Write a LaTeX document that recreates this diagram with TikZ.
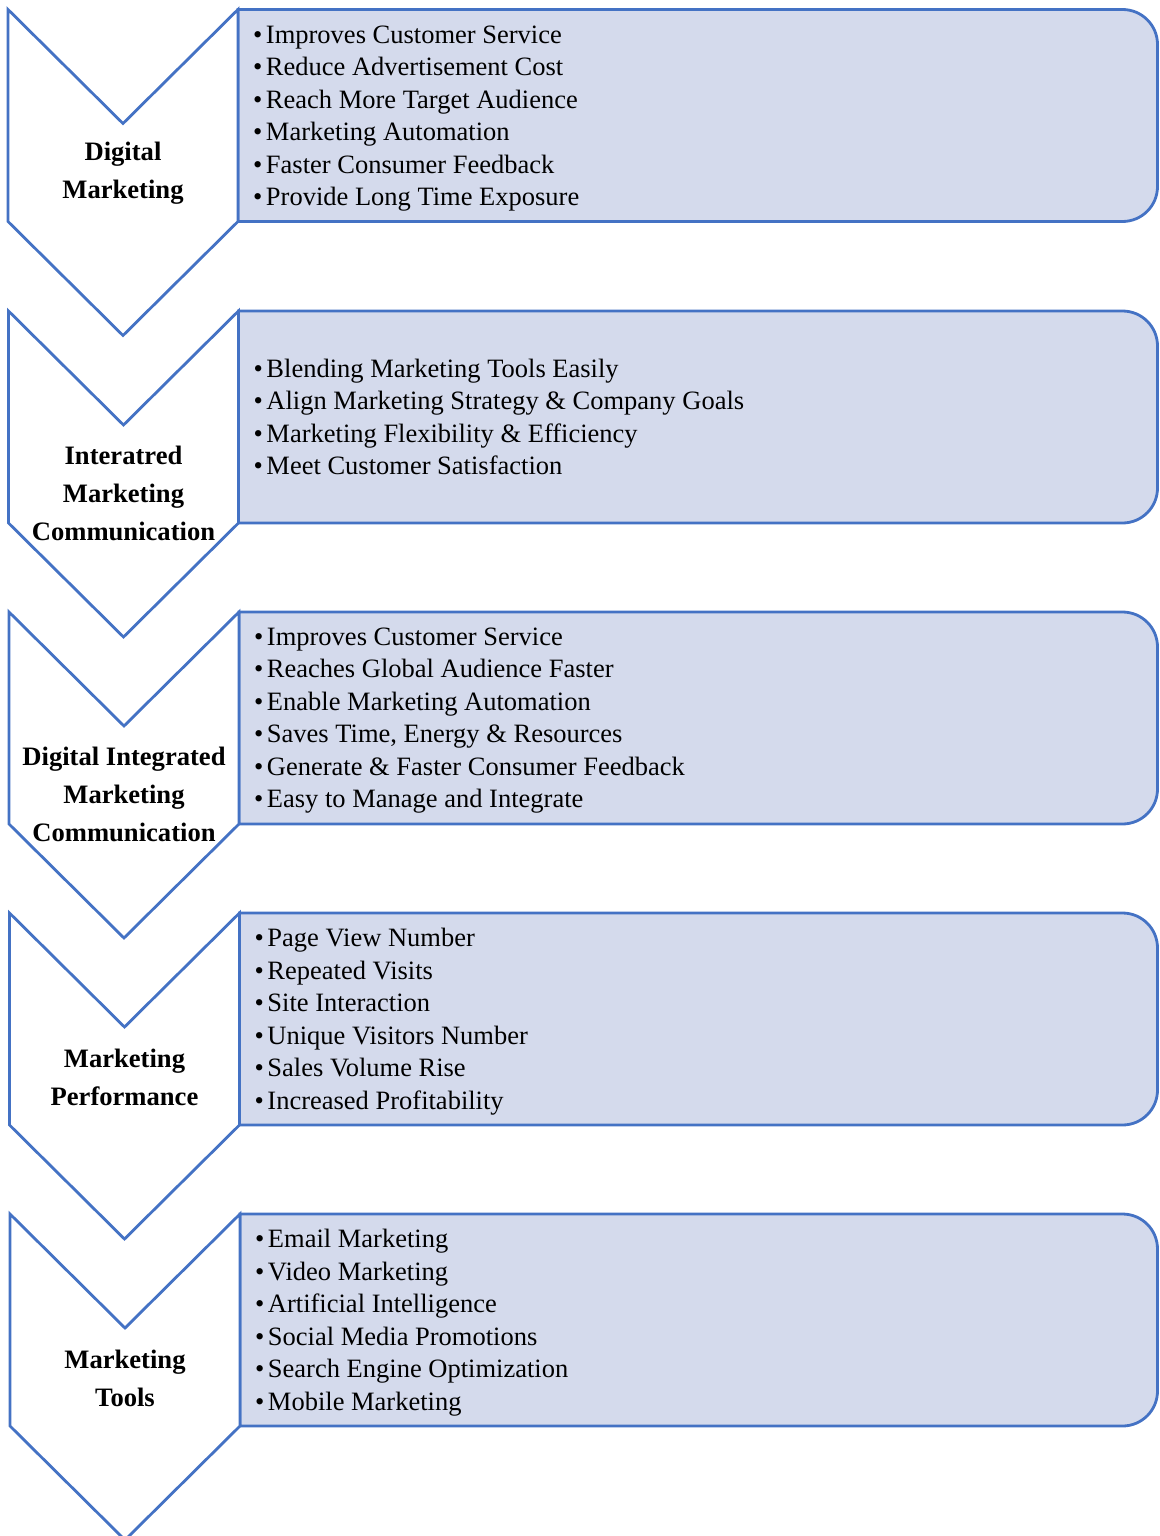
\documentclass[tikz,border=0pt]{standalone}
\usepackage{fontspec}
\setmainfont{Liberation Serif}
\definecolor{myblue}{RGB}{68,114,196}
\definecolor{myfill}{RGB}{212,218,236}
\tikzset{
  chev/.style={draw=myblue, line width=2.8pt, line join=miter, fill=white},
  boxsty/.style={draw=myblue, line width=2.8pt, fill=myfill},
  lbl/.style={font=\bfseries\fontsize{26.6}{38}\selectfont, align=center, inner sep=0pt},
  items/.style={font=\fontsize{26.5}{32.5}\selectfont, align=left, anchor=west, inner sep=0pt}
}
\newcommand{\itm}{\textbullet\hspace{3.5pt}}
\newcommand{\rowshape}[4]{% #1=T, #2=L, #3=R, #4=M
  \draw[boxsty] (#3,#1) -- (1122.5,#1) arc[start angle=-90,end angle=0,radius=35]
    -- (1157.5,#1+177) arc[start angle=0,end angle=90,radius=35] -- (#3,#1+212) -- cycle;
  \draw[chev] (#2,#1) -- (#4,#1+114) -- (#3,#1) -- (#3,#1+212) -- (#4,#1+326) -- (#2,#1+212) -- cycle;
}
\begin{document}
\begin{tikzpicture}[x=1pt,y=-1pt]
\useasboundingbox (0,0) rectangle (1159,1536);
\rowshape{9.5}{8}{238}{123}
\rowshape{311}{8.5}{238.5}{123.5}
\rowshape{612}{9}{239}{124}
\rowshape{913}{9.5}{239.5}{124.5}
\rowshape{1214}{10}{240}{125}

\node[lbl] (l1) at (123,173) {Digital\\Marketing};
\node[lbl] (l2) at (123.5,493) {Interatred\\Marketing\\Communication};
\node[lbl] (l3) at (124,794) {Digital Integrated\\Marketing\\Communication};
\node[lbl] (l4) at (124.5,1077) {Marketing\\Performance};
\node[lbl] (l5) at (125,1378) {Marketing\\Tools};

\node[items] (t1) at (253,118.5) {\itm Improves Customer Service\\\itm Reduce Advertisement Cost\\\itm Reach More Target Audience\\\itm Marketing Automation\\\itm Faster Consumer Feedback\\\itm Provide Long Time Exposure};
\node[items] (t2) at (253.5,417) {\itm Blending Marketing Tools Easily\\\itm Align Marketing Strategy \& Company Goals\\\itm Marketing Flexibility \& Efficiency\\\itm Meet Customer Satisfaction};
\node[items] (t3) at (254,720.5) {\itm Improves Customer Service\\\itm Reaches Global Audience Faster\\\itm Enable Marketing Automation\\\itm Saves Time, Energy \& Resources\\\itm Generate \& Faster Consumer Feedback\\\itm Easy to Manage and Integrate};
\node[items] (t4) at (254.5,1021.5) {\itm Page View Number\\\itm Repeated Visits\\\itm Site Interaction\\\itm Unique Visitors Number\\\itm Sales Volume Rise\\\itm Increased Profitability};
\node[items] (t5) at (255,1322.5) {\itm Email Marketing\\\itm Video Marketing\\\itm Artificial Intelligence\\\itm Social Media Promotions\\\itm Search Engine Optimization\\\itm Mobile Marketing};
\end{tikzpicture}
\end{document}
